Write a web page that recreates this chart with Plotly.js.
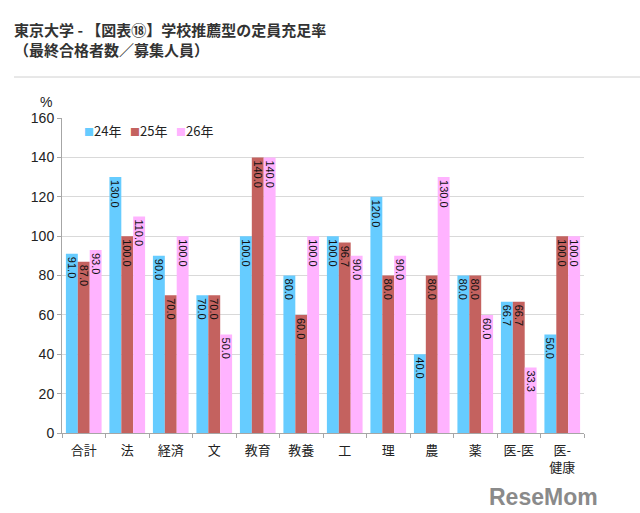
<!DOCTYPE html>
<html>
<head>
<meta charset="utf-8">
<script src="https://cdn.plot.ly/plotly-3.0.1.min.js"></script>
<style>
html,body{margin:0;padding:0;background:#fff;}
#chart{width:640px;height:513px;}
</style>
</head>
<body>
<div id="chart"></div>
<script>
const categories = ["合計","法","経済","文","教育","教養","工","理","農","薬","医-医","医-<br>健康"];
const seriesNames = ["24年","25年","26年"];
const values24 = [91.0,130.0,90.0,70.0,100.0,80.0,100.0,120.0,40.0,80.0,66.7,50.0];
const values25 = [87.0,100.0,70.0,70.0,140.0,60.0,96.7,80.0,80.0,80.0,66.7,100.0];
const values26 = [93.0,110.0,100.0,50.0,140.0,100.0,90.0,90.0,130.0,60.0,33.3,100.0];
const colors = ["#66CCFF","#C4625F","#FFB3FF"];
const yTicks = [0,20,40,60,80,100,120,140,160];

const allValues = [values24, values25, values26];
const traces = allValues.map((vals, i) => ({
  type: "bar",
  name: seriesNames[i],
  x: categories,
  y: vals,
  marker: {color: colors[i], line: {width: 0}},
  text: vals.map(v => v.toFixed(1)),
  textposition: "inside",
  insidetextanchor: "end",
  textangle: 90,
  constraintext: "none",
  insidetextfont: {family: "Liberation Sans, Arial, sans-serif", size: 11, color: "#111"},
  hoverinfo: "skip",
  showlegend: false
}));

// plot area in pixels: x 62..584, y 118..433
const px = x => (x - 62) / 522;
const py = y => (433 - y) / 315;

const legendX = [82, 128, 174];
const legendAnn = seriesNames.map((name, i) => ({
  text: '<span style="color:' + colors[i] + ';font-size:10px">■</span>' + name,
  xref: "paper", yref: "paper",
  x: px(legendX[i]), y: py(130), xanchor: "left", yanchor: "middle",
  showarrow: false,
  font: {family: "Noto Sans CJK JP, sans-serif", size: 13, color: "#222"}
}));

const layout = {
  width: 640,
  height: 513,
  margin: {l: 62, r: 56, t: 118, b: 80},
  paper_bgcolor: "#fff",
  plot_bgcolor: "#fff",
  barmode: "group",
  bargap: 0.18,
  bargroupgap: 0,
  font: {family: "Noto Sans CJK JP, sans-serif", color: "#222"},
  showlegend: false,
  xaxis: {
    type: "category",
    tickson: "boundaries",
    ticks: "outside",
    ticklen: 4,
    tickcolor: "#A6A6A6",
    ticklabelstandoff: 5,
    showline: true,
    linecolor: "#A6A6A6",
    linewidth: 1,
    showgrid: false,
    tickfont: {family: "Noto Sans CJK JP, sans-serif", size: 13, color: "#222"},
    fixedrange: true
  },
  yaxis: {
    range: [0, 160],
    tickvals: yTicks,
    ticktext: yTicks.map(String),
    ticks: "outside",
    ticklen: 4,
    tickcolor: "#A6A6A6",
    showline: true,
    linecolor: "#A6A6A6",
    linewidth: 1,
    showgrid: true,
    gridcolor: "#D9D9D9",
    gridwidth: 1,
    zeroline: false,
    tickfont: {family: "Liberation Sans, Arial, sans-serif", size: 14, color: "#222"},
    fixedrange: true
  },
  annotations: [
    {
      text: "<b>東京大学 - 【図表⑱】学校推薦型の定員充足率</b><br><b>（最終合格者数／募集人員）</b>",
      xref: "paper", yref: "paper",
      x: px(12), y: py(17), xanchor: "left", yanchor: "top", align: "left",
      showarrow: false,
      font: {family: "Noto Sans CJK JP, sans-serif", size: 15, color: "#333"}
    },
    {
      text: "%", xref: "paper", yref: "paper",
      x: px(46), y: py(102), xanchor: "center", yanchor: "middle",
      showarrow: false,
      font: {family: "Liberation Sans, Arial, sans-serif", size: 14, color: "#222"}
    },
    {
      text: "<b>ReseMom</b>", xref: "paper", yref: "paper",
      x: px(600), y: py(497), xanchor: "right", yanchor: "middle",
      showarrow: false,
      font: {family: "Liberation Sans Narrow, Liberation Sans, sans-serif", size: 23, color: "#8A8A8A"}
    }
  ].concat(legendAnn),
  shapes: [
    {
      type: "line", xref: "paper", yref: "paper",
      x0: px(14), x1: px(640),
      y0: py(77), y1: py(77),
      line: {color: "#D0D0D0", width: 1}
    }
  ]
};

Plotly.newPlot("chart", traces, layout, {displayModeBar: false, staticPlot: true});
</script>
</body>
</html>
